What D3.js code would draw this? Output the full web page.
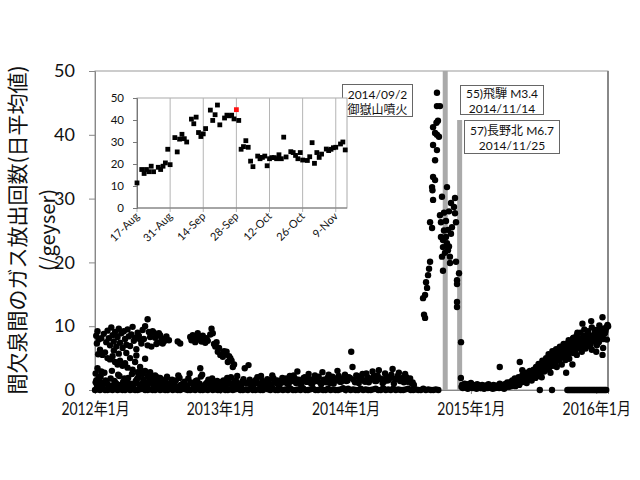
<!DOCTYPE html>
<html><head><meta charset="utf-8">
<script src="https://cdn.jsdelivr.net/npm/d3@7"></script>
<style>body{margin:0;background:#fff}svg{display:block}</style>
</head><body><svg id="c" width="640" height="480"></svg>
<script>
// ---------------- DATA ----------------
const yTicks = [0, 10, 20, 30, 40, 50];
const xTickYears = [2012, 2013, 2014, 2015, 2016];
const xTickLabels = ["2012年1月", "2013年1月", "2014年1月", "2015年1月", "2016年1月"];
const yTitle1 = "間欠泉間のガス放出回数(日平均値)";
const yTitle2 = "(/geyser)";

// earthquake marker bars (decimal year)
const eventYears = [2014.795, 2014.91];

// annotation texts
const noteEruption = ["2014/09/2", "御嶽山噴火"];
const noteHida = ["55)飛騨 M3.4", "2014/11/14"];
const noteNagano = ["57)長野北 M6.7", "2014/11/25"];

// regular daily-ish series: start (decimal year), step, values
const zeroStart = 2012.0, zeroStep = 0.02;
const zeroVals = [0,0.1,0,0.2,0,0,0.1,0,0.3,0, 0.1,0,0,0.2,0,0.1,0,0,0.1,0.2, 0,0,0.1,0,0,0.2,0,0.1,0,0,
  0.3,0,0.1,0,0,0.2,0.1,0,0,0.1, 0,0.2,0,0,0.1,0,0.3,0,0.1,0, 0,0.2,0,0,0.1,0,0.1,0.2,0,0,
  0.1,0,0.2,0,0,0.1,0,0,0.3,0.1, 0,0.2,0,0,0.1,0,0.1,0,0.2,0, 0,0.1,0,0.3,0,0,0.1,0.2,0,0,
  0.1,0,0,0.2,0,0.1,0,0,0.1,0.3, 0,0.2,0,0.1,0,0,0.2,0,0.1,0, 0,0.1,0.2,0,0,0.3,0,0.1,0,0.2,
  0,0.1,0,0,0.1,0.2,0,0,0.1,0, 0,0.2,0,0.1,0,0,0.1,0];

const lowAStart = 2012.005, lowAStep = 0.02;
const lowAVals = [1.2,0.6,2.1,0.9,1.5,0.4,1.8,0.7,1.1,2.4,0.8,1.3,0.5,1.9,1.0,0.6,1.4,2.0,0.9,1.6,0.7,1.2,2.2,0.8,1.0,
  0.5,1.3,0.9,1.7,0.6,1.1,0.4,1.5,2.3,0.8,1.0,0.6,1.8,1.2,0.7,1.4,0.9,2.1,0.5,1.0,1.6,0.8,1.3,0.6,1.1,
  0.9,1.5,0.7,1.2,2.0,0.8,1.4,1.0,0.6,1.7,1.1,3.9,1.3,0.8,1.6,1.0,2.2,0.7,1.2,1.5,0.9,1.8,1.1,0.7,1.4,
  1.2,1.8,0.9,1.5,2.3,1.1,1.6,0.8,1.9,1.3,2.5,1.0,1.7,1.4,2.1,0.9,1.6,1.2,2.4,1.5,1.0,1.8,2.2,1.3,1.7,
  1.4,2.0,6.0,1.6,2.3,1.1,1.9,1.5,2.6,1.2,1.8,2.2,1.4,3.1,1.7,1.3,2.1,1.6,2.4,1.0,1.8,2.7,1.5,1.2,2.0,1.6,1.1,0.8];

const lowBStart = 2012.015, lowBStep = 0.02;
const lowBVals = [0.8,1.6,0.5,2.7,1.1,0.7,3.0,1.4,0.9,2.2,0.6,1.8,1.2,0.4,2.5,1.0,1.7,0.8,2.9,1.3,0.6,1.9,1.1,0.7,2.0,
  1.0,0.6,1.4,2.1,0.8,1.6,1.2,0.5,1.9,0.9,1.3,0.7,2.6,1.1,0.8,1.5,1.0,2.4,0.7,1.2,0.9,1.8,0.6,1.4,1.0,
  1.3,0.8,1.9,1.1,0.6,1.5,2.2,0.9,1.3,3.4,1.0,1.6,0.7,1.2,2.0,0.9,1.4,1.1,1.7,0.8,2.3,1.2,1.5,0.9,1.9,
  1.6,1.0,2.2,1.4,1.8,2.9,1.1,1.5,2.0,1.3,1.7,1.0,2.3,1.6,1.2,2.8,1.4,1.9,1.1,2.1,1.5,3.0,1.3,1.8,2.4,
  1.5,1.9,3.6,1.2,2.2,1.7,2.5,1.3,2.0,1.6,2.9,1.4,2.3,1.8,1.1,2.6,1.5,2.0,3.3,1.7,2.2,1.4,1.9,2.5,1.3,1.8,1.2];

// 2012 high-activity points [decimal year, value]
const early2012High = [[2012.01,8.5],[2012.015,7.3],[2012.02,9.2],[2012.03,7.9],[2012.05,8.1],[2012.07,8.8],[2012.09,7.5],
  [2012.10,9.3],[2012.11,8.1],[2012.12,7.0],[2012.13,9.8],[2012.14,8.6],[2012.15,7.6],[2012.16,9.1],[2012.17,6.8],[2012.18,8.3],
  [2012.19,9.6],[2012.20,7.4],[2012.21,8.9],[2012.22,6.6],[2012.23,9.2],[2012.24,8.0],[2012.25,7.1],[2012.26,9.5],[2012.27,8.4],
  [2012.28,6.9],[2012.29,8.7],[2012.30,9.9],[2012.31,7.7],[2012.32,8.2],[2012.33,6.4],[2012.34,9.0],[2012.35,8.5],[2012.36,7.9],
  [2012.37,7.3],[2012.38,9.4],[2012.39,8.0],[2012.40,10.0],[2012.42,11.1],[2012.42,7.0],[2012.43,9.1],[2012.44,8.3],[2012.45,6.8],
  [2012.46,9.2],[2012.47,9.0],[2012.48,8.2],[2012.49,7.2],[2012.50,7.4],[2012.51,8.9],[2012.52,8.6],[2012.53,8.1],[2012.54,7.3],
  [2012.55,7.6],[2012.57,8.4],[2012.59,7.8],[2012.66,7.6],[2012.68,7.3]];
const early2012Decline = [[2012.005,2.6],[2012.01,1.5],[2012.02,3.4],[2012.025,5.6],[2012.03,2.0],[2012.04,6.3],[2012.045,1.2],
  [2012.05,2.9],[2012.06,5.5],[2012.08,5.9],[2012.10,5.0],[2012.12,4.8],[2012.14,5.3],[2012.16,4.4],[2012.18,4.0],[2012.20,4.6],
  [2012.22,3.8],[2012.24,4.2],[2012.25,5.8],[2012.26,3.5],[2012.28,5.0],[2012.30,3.2],[2012.32,4.4],[2012.34,2.8],[2012.36,3.6],
  [2012.38,2.5],[2012.40,3.0],[2012.42,2.2],[2012.44,2.8],[2012.46,1.8],[2012.48,2.3],[2012.50,1.5],[2012.52,1.9],[2012.54,1.2],
  [2012.56,1.0],[2012.58,0.8],[2012.15,6.2],[2012.19,5.7],[2012.33,5.4],[2012.40,4.9]];
const late2012 = [[2012.76,8.3],[2012.77,7.8],[2012.78,8.6],[2012.79,8.0],[2012.80,7.5],[2012.81,8.4],[2012.82,8.9],[2012.83,7.9],
  [2012.84,8.2],[2012.85,7.6],[2012.86,8.5],[2012.87,8.0],[2012.88,7.4],[2012.89,8.1],[2012.90,7.7],[2012.92,8.7],[2012.93,9.6],
  [2012.94,8.9],[2012.95,7.2],[2012.96,6.8],[2012.97,7.5],[2012.98,6.0],[2012.99,6.6],[2013.00,5.5],[2013.02,5.2],[2013.03,6.1],
  [2013.04,5.6],[2013.05,6.0],[2013.06,4.4],[2013.07,5.3],[2013.08,5.0],[2013.09,4.6],[2013.10,3.6],[2013.11,4.0],[2012.84,3.4]];

// 2014 eruption-period spike [decimal year, value]
const spike2014 = [[2014.729,46.6],[2014.729,44.5],[2014.753,44.5],[2014.737,42.2],[2014.725,41.9],[2014.698,41.2],[2014.714,40.3],
  [2014.729,40.0],[2014.745,39.7],[2014.698,38.4],[2014.729,37.6],[2014.714,36.0],[2014.698,33.4],[2014.714,32.9],[2014.690,31.8],
  [2014.693,31.3],[2014.698,29.8],[2014.809,31.8],[2014.769,30.3],[2014.873,30.1],[2014.841,29.3],[2014.865,28.7],[2014.873,27.7],
  [2014.753,27.4],[2014.674,26.3],[2014.761,26.3],[2014.881,26.3],[2014.690,25.4],[2014.817,25.1],[2014.841,24.5],[2014.777,23.5],
  [2014.809,23.0],[2014.777,22.4],[2014.817,21.9],[2014.769,20.9],[2014.833,20.9],[2014.674,20.1],[2014.833,19.9],[2014.881,20.1],
  [2014.777,18.7],[2014.666,19.0],[2014.658,18.0],[2014.905,18.3],[2014.642,16.9],[2014.889,17.2],[2014.650,16.0],[2014.889,16.6],
  [2014.634,14.9],[2014.618,14.4],[2014.889,13.8],[2014.889,13.0],[2014.626,11.8],[2014.634,11.3],[2014.921,7.5],
  [2014.785,25.0],[2014.801,24.0],[2014.825,22.5],[2014.793,21.5],[2014.761,24.0],[2014.849,25.5],[2014.801,26.5],[2014.785,27.8],[2014.825,28.0]];

const postAStart = 2014.92, postAStep = 0.01;
const postAVals = [1.9,0.8,0.5,1.0,0.6,0.9,0.4,0.7,1.1,0.5,0.8,0.6,0.4,0.9,0.7,0.5,0.3,0.8,0.6,0.4,0.7,0.5,0.9,0.6,0.3,0.5,0.8,0.4,0.6,0.7,0.5,1.0,0.6,0.4,0.8,0.9,0.5,1.2,0.7,1.0,0.8,1.3];
const postBStart = 2014.925, postBStep = 0.01;
const postBVals = [0.5,0.3,0.7,0.4,0.6,0.2,0.5,0.4,0.8,0.3,0.6,0.5,0.2,0.4,0.7,0.3,0.5,0.6,0.2,0.4,0.5,0.3,0.7,0.4,0.6,0.2,0.5,0.3,0.4,0.6,0.3,0.5,0.7,0.4,0.2,0.6,0.5,0.8];

const cloudAStart = 2015.30, cloudAStep = 0.01;
const cloudAVals = [0.8,1.2,0.6,1.5,1.0,1.8,0.9,1.4,2.0,1.2, 1.6,2.3,1.3,2.0,2.7,1.8,2.4,3.0,2.1,2.6,
  3.2,2.5,3.6,2.9,4.1,3.3,3.8,4.6,3.5,4.2, 5.0,4.3,5.6,4.8,5.3,6.1,5.0,5.7,6.4,5.4,
  6.0,6.8,5.6,6.5,7.2,6.2,7.0,6.6,7.8,6.9, 7.4,6.8,8.2,7.1,7.7,9.0,7.3,8.0,7.5,10.4,
  7.9,8.5,7.2,8.8,8.1,7.6,10.8,8.4,7.8,9.1, 8.2,8.8,7.5,9.3,8.6,11.4,8.0,9.0,9.8,10.2];
const cloudBStart = 2015.305, cloudBStep = 0.01;
const cloudBVals = [0.5,0.9,1.3,0.7,1.1,0.6,1.5,1.0,0.8,1.7, 1.2,1.6,2.0,1.4,1.1,2.2,1.7,2.5,1.5,2.0,
  2.4,1.9,2.8,2.2,3.1,2.6,2.0,3.4,2.9,3.7, 3.2,4.0,3.5,2.7,4.4,3.8,4.9,4.1,3.6,5.2,
  4.6,5.5,4.0,5.1,5.8,4.7,6.2,5.4,4.9,6.0, 6.5,5.8,6.9,6.2,5.5,7.1,6.6,7.4,6.0,6.8,
  7.3,6.5,7.8,6.9,8.3,7.1,6.3,8.0,7.6,8.5, 7.0,8.2,7.7,9.0,8.4,6.6,8.8,9.4,7.9,10.0];
const cloudCStart = 2015.50, cloudCStep = 0.015;
const cloudCVals = [2.0,3.0,2.6,3.8,3.3,4.3,3.7,4.8,4.2,5.4,4.6,5.9,5.1,6.3,5.7,6.8,6.1,7.2,6.6,7.6,
  7.0,8.1,7.3,8.6,7.7,9.0,8.2,9.5,8.0,9.2,8.6,9.8,8.4,9.4,8.9,10.1,8.7,9.6,9.0,9.9];
const extra2015 = [[2015.23,3.6],[2015.39,4.4],[2015.41,3.1],[2015.76,2.7],[2015.81,4.0],[2016.00,6.0],[2016.05,5.5],[2015.55,0],[2015.647,0]];
const zero2015Start = 2015.77, zero2015Step = 0.01;
const zero2015Vals = [0,0,0,0,0,0,0,0,0,0,0,0,0,0,0,0,0,0,0,0,0,0,0,0,0,0,0,0,0,0,0,0];

// inset (17-Aug .. mid-Nov 2014, daily)
const insetStartDate = "2014-08-17";
const insetTickDates = ["2014-08-17","2014-08-31","2014-09-14","2014-09-28","2014-10-12","2014-10-26","2014-11-09"];
const insetTickLabels = ["17-Aug","31-Aug","14-Sep","28-Sep","12-Oct","26-Oct","9-Nov"];
const insetYTicks = [0, 10, 20, 30, 40, 50];
const insetDays = [0,2,3,4,5,6,7,9,10,11,12,13,14,16,17,18,19,20,21,23,24,25,26,27,28,29,31,32,33,34,35,37,38,39,40,41,42,43,44,45,
  46,47,48,49,51,52,53,54,55,56,57,58,59,60,61,62,63,65,66,67,68,69,70,72,73,74,75,76,77,78,80,81,82,83,84,86,87,88];
const insetVals = [11.4,17.5,15.7,17.5,16.5,19,16.5,18.5,17.5,19,20.5,26.7,19.7,32,25.5,31.3,33.5,31.5,30,40.4,
  38.3,41.3,34.3,32.5,33.7,36.1,44.5,39.8,42.4,46.8,37.8,40.9,42.2,41.9,42.2,40.5,44.7,39.8,26.7,27.9,
  30.6,27.6,21.3,18.8,23.6,22.4,23,23.6,19.2,22.4,22.9,22.9,22.4,24.2,22.4,32.2,23.2,25.6,25.2,23.9,
  22.4,25.2,21.8,21.6,23.3,29.7,20.3,25.2,23,24.5,26.8,26.1,26.7,27.4,27.6,29.1,30,26.4];
const insetHighlightDay = 42;

// ---------------- DRAW ----------------
const svg = d3.select('#c');
const NUM = "'Lato','Noto Sans CJK JP',sans-serif";
const JP = "'Noto Sans CJK JP',sans-serif";

const L = 95, R = 608, T = 71, B = 390;
const x = d3.scaleLinear().domain([2012, 2016.094]).range([L, R]);
const y = d3.scaleLinear().domain([0, 50]).range([B, T]);

const seq = (s, st, vals) => vals.map((v, i) => [s + i * st, v]);
const points = [].concat(
  seq(zeroStart, zeroStep, zeroVals),
  seq(lowAStart, lowAStep, lowAVals),
  seq(lowBStart, lowBStep, lowBVals),
  early2012High, early2012Decline, late2012, spike2014,
  seq(postAStart, postAStep, postAVals),
  seq(postBStart, postBStep, postBVals),
  seq(cloudAStart, cloudAStep, cloudAVals),
  seq(cloudBStart, cloudBStep, cloudBVals),
  seq(cloudCStart, cloudCStep, cloudCVals),
  extra2015,
  seq(zero2015Start, zero2015Step, zero2015Vals)
);

// frame
svg.append('rect').attr('x', L).attr('y', T).attr('width', R - L).attr('height', B - T)
  .attr('fill', 'none').attr('stroke', '#9a9a9a').attr('stroke-width', 1);
svg.append('line').attr('x1', R).attr('x2', R).attr('y1', T).attr('y2', B)
  .attr('stroke', '#888').attr('stroke-width', 2);

// y axis
const gy = svg.append('g').attr('transform', `translate(${L},0)`)
  .call(d3.axisLeft(y).tickValues(yTicks).tickSize(6).tickPadding(14).tickFormat(d3.format('d')));
gy.select('.domain').attr('stroke', '#888');
gy.selectAll('.tick line').attr('stroke', '#888');
gy.selectAll('.tick text').attr('font-family', NUM).attr('font-size', 18).attr('fill', '#111');

// x axis
const gx = svg.append('g').attr('transform', `translate(0,${B})`)
  .call(d3.axisBottom(x).tickValues(xTickYears).tickSize(4).tickPadding(9)
    .tickFormat((d, i) => xTickLabels[i]));
gx.select('.domain').attr('stroke', '#888');
gx.selectAll('.tick line').attr('stroke', '#888');
gx.selectAll('.tick text').attr('font-family', NUM).attr('font-size', 17).attr('fill', '#111')
  .attr('transform', 'scale(0.82,1)');

// y title
svg.append('text').attr('transform', 'translate(16,230) rotate(-90)')
  .attr('text-anchor', 'middle').attr('dominant-baseline', 'central')
  .attr('font-family', JP).attr('font-size', 21).attr('fill', '#111').text(yTitle1);
svg.append('text').attr('transform', 'translate(46,230) rotate(-90)')
  .attr('text-anchor', 'middle').attr('dominant-baseline', 'central')
  .attr('font-family', JP).attr('font-size', 20).attr('fill', '#111').text(yTitle2);

// event bars
const barTopY = [T, 120];
svg.append('g').selectAll('rect').data(eventYears).join('rect')
  .attr('x', d => x(d) - 2.5).attr('width', 5)
  .attr('y', (d, i) => barTopY[i]).attr('height', (d, i) => B - barTopY[i])
  .attr('fill', '#aaaaaa');

// points
svg.append('g').selectAll('circle').data(points).join('circle')
  .attr('cx', d => x(d[0])).attr('cy', d => y(d[1])).attr('r', 3.2).attr('fill', '#000');

// annotation boxes
function note(lines, bx, by, bw, bh, base1, base2) {
  const g = svg.append('g');
  g.append('rect').attr('x', bx).attr('y', by).attr('width', bw).attr('height', bh)
    .attr('fill', '#fff').attr('stroke', '#666').attr('stroke-width', 1);
  [base1, base2].forEach((b, i) => g.append('text').attr('x', bx + bw / 2).attr('y', b)
    .attr('text-anchor', 'middle').attr('font-family', NUM).attr('font-size', 12).attr('fill', '#111').text(lines[i]));
}
note(noteEruption, 342.5, 84.5, 70, 32, 98.5, 113.5);
note(noteHida, 460.5, 85.5, 83, 29, 98, 112.5);
note(noteNagano, 464.5, 120.5, 95, 33, 134.5, 149.5);

// inset
const p = d3.timeParse('%Y-%m-%d');
const s0 = p(insetStartDate);
const xi = d3.scaleTime().domain([s0, new Date(s0.getTime() + 88.75 * 864e5)]).range([137, 347]);
const yi = d3.scaleLinear().domain([0, 50]).range([208, 98]);
const ig = svg.append('g');
ig.append('rect').attr('x', 137).attr('y', 98).attr('width', 210).attr('height', 110)
  .attr('fill', '#fff').attr('stroke', '#aaa');
ig.selectAll('line.grid').data(insetTickDates.map(p)).join('line').attr('class', 'grid')
  .attr('x1', d => xi(d)).attr('x2', d => xi(d)).attr('y1', 98).attr('y2', 212)
  .attr('stroke', '#b5b5b5');
const giy = ig.append('g').attr('transform', 'translate(137,0)')
  .call(d3.axisLeft(yi).tickValues(insetYTicks).tickSize(4).tickPadding(9));
giy.select('.domain').attr('stroke', '#777');
giy.selectAll('.tick line').attr('stroke', '#777');
giy.selectAll('.tick text').attr('font-family', NUM).attr('font-size', 11.5).attr('fill', '#111');
ig.append('line').attr('x1', 137).attr('x2', 347).attr('y1', 208).attr('y2', 208).attr('stroke', '#777');
ig.selectAll('text.xl').data(insetTickDates).join('text').attr('class', 'xl')
  .attr('transform', d => `translate(${xi(p(d)) + 3},217) rotate(-45)`)
  .attr('text-anchor', 'end').attr('font-family', NUM).attr('font-size', 11).attr('fill', '#111')
  .text((d, i) => insetTickLabels[i]);
const insetPts = insetDays.map((d, i) => ({ d, v: insetVals[i], t: d3.timeDay.offset(s0, d) }));
ig.selectAll('rect.pt').data(insetPts).join('rect').attr('class', 'pt')
  .attr('x', d => xi(d.t) - 2.4).attr('y', d => yi(d.v) - 2.4).attr('width', 4.8).attr('height', 4.8)
  .attr('fill', d => d.d === insetHighlightDay ? '#ff1010' : '#000');
</script>
</body></html>
